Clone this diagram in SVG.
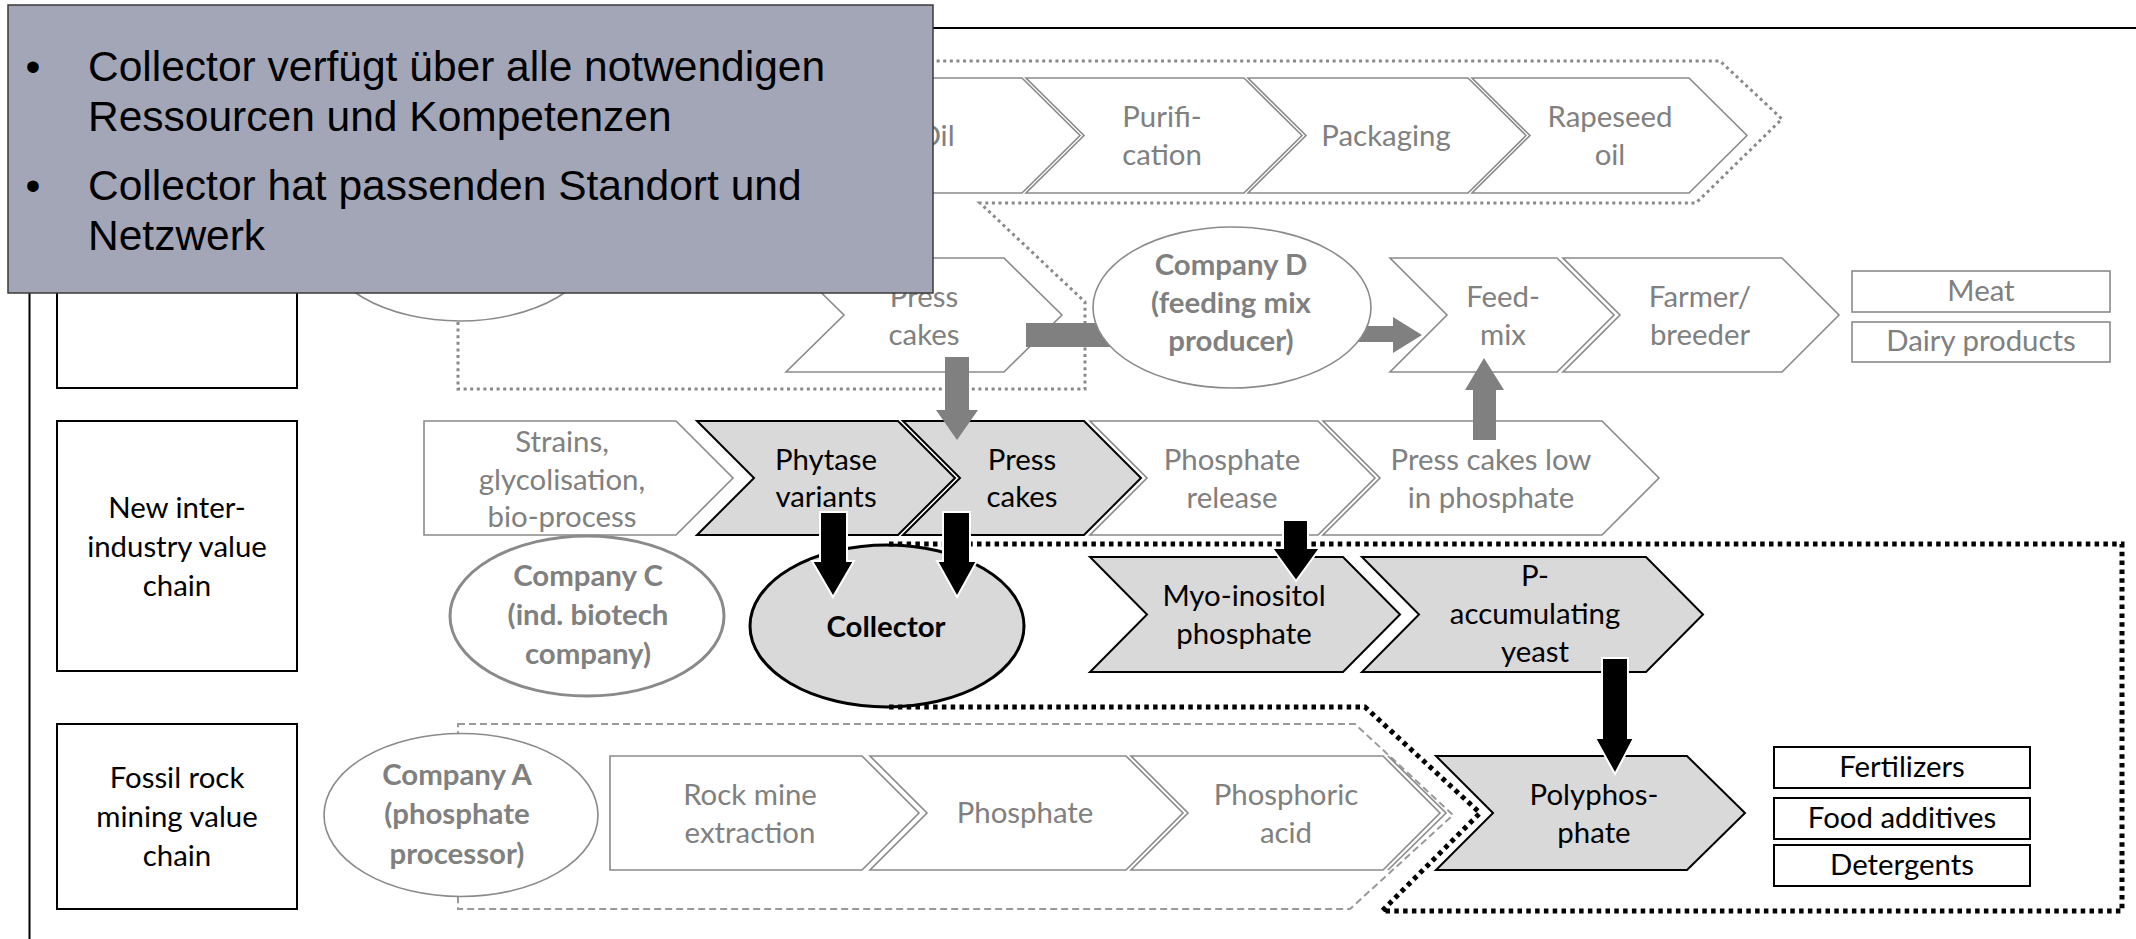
<svg xmlns="http://www.w3.org/2000/svg" width="2136" height="939" viewBox="0 0 2136 939">
  <style>
    .frame { stroke: #000; stroke-width: 2; fill: none; }
    .rowbox { fill: #fff; stroke: #000; stroke-width: 2; }
    .gchev { fill: #fff; stroke: #8a8a8a; stroke-width: 1.6; stroke-linejoin: miter; }
    .kchev { fill: #d9d9d9; stroke: #000; stroke-width: 2; stroke-linejoin: miter; }
    .gline { fill: none; stroke: #8a8a8a; stroke-width: 1.6; }
    .gbox { fill: #fff; stroke: #8a8a8a; stroke-width: 1.6; }
    .kbox { fill: #fff; stroke: #000; stroke-width: 2; }
    .ell-thin { fill: #fff; stroke: #8a8a8a; stroke-width: 1.6; }
    .ell-thick { fill: #fff; stroke: #8a8a8a; stroke-width: 3; }
    .ell-key { fill: #d9d9d9; stroke: #000; stroke-width: 3; }
    .gdot { fill: none; stroke: #8a8a8a; stroke-width: 3; stroke-dasharray: 3 3.6; }
    .gdash { fill: none; stroke: #999; stroke-width: 2; stroke-dasharray: 7 4; }
    .kdot { fill: none; stroke: #000; stroke-width: 5; stroke-dasharray: 4.5 4.3; }
    .garrow { fill: #808080; stroke: none; }
    .karrow { fill: #000; stroke: #fff; stroke-width: 2; stroke-linejoin: miter; }
    .t { font-family: Lato, "Open Sans", "DejaVu Sans", sans-serif; font-size: 28px; text-anchor: middle; }
    .tg { fill: #808080; }
    .tk { fill: #000; }
    .b { font-weight: bold; }
    .note { fill: #a3a6b7; stroke: #3a3a3a; stroke-width: 1.5; }
    .nt { font-family: "Liberation Sans", Arial, sans-serif; font-size: 42.5px; fill: #000; }
  </style>

  <!-- frame lines -->
  <g id="frame">
    <line class="frame" x1="29" y1="28" x2="2136" y2="28"/>
    <line class="frame" x1="29.5" y1="27" x2="29.5" y2="939"/>
  </g>

  <!-- row labels (labels are widened 5% about their centre line) -->
  <g id="row-oil">
    <rect class="rowbox" x="57" y="120" width="240" height="268"/>
  </g>
  <g id="row-new">
    <rect class="rowbox" x="57" y="421" width="240" height="250"/>
    <text class="t tk" transform="matrix(1.05 0 0 1 -8.85 0)"><tspan x="177" y="518">New inter-</tspan><tspan x="177" y="557">industry value</tspan><tspan x="177" y="596">chain</tspan></text>
  </g>
  <g id="row-fossil">
    <rect class="rowbox" x="57" y="724" width="240" height="185"/>
    <text class="t tk" transform="matrix(1.05 0 0 1 -8.85 0)"><tspan x="177" y="788">Fossil rock</tspan><tspan x="177" y="827">mining value</tspan><tspan x="177" y="866">chain</tspan></text>
  </g>

  <!-- scope outlines drawn beneath the nodes -->
  <g id="scopes-back">
    <path class="gdot" d="M458 322 V389 H1085 V302 L980 203 H1696 L1782 119 L1720 61 H880"/>
    <path class="gdash" d="M458 724 H1355 L1453 815 L1350 909 H458 Z"/>
  </g>

  <!-- top chain -->
  <g id="n-oil">
    <polygon class="gchev" points="804,78 1022,78 1080,135.5 1022,193 804,193 862,135.5"/>
    <text class="t tg" transform="matrix(1.05 0 0 1 -46.8 0)" x="936" y="146">Oil</text>
  </g>
  <g id="n-purification">
    <polygon class="gchev" points="1026,78 1244,78 1302,135.5 1244,193 1026,193 1084,135.5"/>
    <text class="t tg" transform="matrix(1.05 0 0 1 -58.1 0)"><tspan x="1162" y="127">Purifi-</tspan><tspan x="1162" y="165">cation</tspan></text>
  </g>
  <g id="n-packaging">
    <polygon class="gchev" points="1248,78 1468,78 1526,135.5 1468,193 1248,193 1306,135.5"/>
    <text class="t tg" transform="matrix(1.05 0 0 1 -69.3 0)" x="1386" y="146">Packaging</text>
  </g>
  <g id="n-rapeseed-oil">
    <polygon class="gchev" points="1472,78 1689,78 1747,135.5 1689,193 1472,193 1530,135.5"/>
    <text class="t tg" transform="matrix(1.05 0 0 1 -80.5 0)"><tspan x="1610" y="127">Rapeseed</tspan><tspan x="1610" y="165">oil</tspan></text>
  </g>

  <!-- feed chain -->
  <g id="n-presscakes-feed">
    <polygon class="gchev" points="786,258 1004,258 1062,315 1004,372 786,372 844,315"/>
    <text class="t tg" transform="matrix(1.05 0 0 1 -46.2 0)"><tspan x="924" y="307">Press</tspan><tspan x="924" y="345">cakes</tspan></text>
  </g>
  <g id="n-feedmix">
    <polygon class="gchev" points="1390,258 1557,258 1614,315 1557,372 1390,372 1447,315"/>
    <text class="t tg" transform="matrix(1.05 0 0 1 -75.15 0)"><tspan x="1503" y="307">Feed-</tspan><tspan x="1503" y="345">mix</tspan></text>
  </g>
  <g id="n-farmer">
    <polygon class="gchev" points="1563,258 1782,258 1839,315 1782,372 1563,372 1620,315"/>
    <text class="t tg" transform="matrix(1.05 0 0 1 -85 0)"><tspan x="1700" y="307">Farmer/</tspan><tspan x="1700" y="345">breeder</tspan></text>
  </g>
  <g id="n-meat">
    <rect class="gbox" x="1852" y="271" width="258" height="41"/>
    <text class="t tg" transform="matrix(1.05 0 0 1 -99.05 0)" x="1981" y="301">Meat</text>
  </g>
  <g id="n-dairy">
    <rect class="gbox" x="1852" y="322" width="258" height="40"/>
    <text class="t tg" transform="matrix(1.05 0 0 1 -99.05 0)" x="1981" y="351">Dairy products</text>
  </g>

  <!-- new inter-industry chain -->
  <g id="n-strains">
    <polygon class="gchev" points="424,421 676,421 733,478 676,535 424,535"/>
    <text class="t tg" transform="matrix(1.05 0 0 1 -28.1 0)"><tspan x="562" y="452">Strains,</tspan><tspan x="562" y="490">glycolisation,</tspan><tspan x="562" y="527">bio-process</tspan></text>
  </g>
  <g id="n-phytase">
    <polygon class="kchev" points="697,421 898,421 955,478 898,535 697,535 754,478"/>
    <text class="t tk" transform="matrix(1.05 0 0 1 -41.3 0)"><tspan x="826" y="470">Phytase</tspan><tspan x="826" y="507">variants</tspan></text>
  </g>
  <g id="n-presscakes-new">
    <polygon class="kchev" points="903,421 1084,421 1141,478 1084,535 903,535 960,478"/>
    <text class="t tk" transform="matrix(1.05 0 0 1 -51.1 0)"><tspan x="1022" y="470">Press</tspan><tspan x="1022" y="507">cakes</tspan></text>
  </g>
  <g id="n-phosphate-release">
    <polygon class="gchev" points="1090,421 1318,421 1375,478 1318,535 1090,535 1147,478"/>
    <text class="t tg" transform="matrix(1.05 0 0 1 -61.6 0)"><tspan x="1232" y="470">Phosphate</tspan><tspan x="1232" y="508">release</tspan></text>
  </g>
  <g id="n-presscakes-low">
    <polygon class="gchev" points="1323,421 1602,421 1659,478 1602,535 1323,535 1380,478"/>
    <text class="t tg" transform="matrix(1.05 0 0 1 -74.55 0)"><tspan x="1491" y="470">Press cakes low</tspan><tspan x="1491" y="508">in phosphate</tspan></text>
  </g>
  <g id="n-myoinositol">
    <polygon class="kchev" points="1090,557 1343,557 1400,614.5 1343,672 1090,672 1147,614.5"/>
    <text class="t tk" transform="matrix(1.05 0 0 1 -62.2 0)"><tspan x="1244" y="606">Myo-inositol</tspan><tspan x="1244" y="644">phosphate</tspan></text>
  </g>
  <g id="n-yeast">
    <polygon class="kchev" points="1362,557 1646,557 1703,614.5 1646,672 1362,672 1419,614.5"/>
    <text class="t tk" transform="matrix(1.05 0 0 1 -76.75 0)"><tspan x="1535" y="586">P-</tspan><tspan x="1535" y="624">accumulating</tspan><tspan x="1535" y="662">yeast</tspan></text>
  </g>

  <!-- fossil chain -->
  <g id="n-rockmine">
    <polygon class="gchev" points="610,756 862,756 919,813 862,870 610,870"/>
    <text class="t tg" transform="matrix(1.05 0 0 1 -37.5 0)"><tspan x="750" y="805">Rock mine</tspan><tspan x="750" y="843">extraction</tspan></text>
  </g>
  <g id="n-phosphate">
    <polygon class="gchev" points="870,756 1126,756 1183,813 1126,870 870,870 927,813"/>
    <text class="t tg" transform="matrix(1.05 0 0 1 -51.25 0)" x="1025" y="823">Phosphate</text>
  </g>
  <g id="n-phosphoric">
    <polygon class="gchev" points="1131,756 1383,756 1440,813 1383,870 1131,870 1188,813"/>
    <polyline class="gline" points="1388,756 1446,813 1388,870"/>
    <text class="t tg" transform="matrix(1.05 0 0 1 -64.3 0)"><tspan x="1286" y="805">Phosphoric</tspan><tspan x="1286" y="843">acid</tspan></text>
  </g>
  <g id="n-polyphosphate">
    <polygon class="kchev" points="1436,756 1687,756 1745,813 1687,870 1436,870 1493,813"/>
    <text class="t tk" transform="matrix(1.05 0 0 1 -79.7 0)"><tspan x="1594" y="805">Polyphos-</tspan><tspan x="1594" y="843">phate</tspan></text>
  </g>
  <g id="n-fertilizers">
    <rect class="kbox" x="1774" y="747" width="256" height="41"/>
    <text class="t tk" transform="matrix(1.05 0 0 1 -95.1 0)" x="1902" y="777">Fertilizers</text>
  </g>
  <g id="n-food">
    <rect class="kbox" x="1774" y="798" width="256" height="41"/>
    <text class="t tk" transform="matrix(1.05 0 0 1 -95.1 0)" x="1902" y="828">Food additives</text>
  </g>
  <g id="n-detergents">
    <rect class="kbox" x="1774" y="845" width="256" height="41"/>
    <text class="t tk" transform="matrix(1.05 0 0 1 -95.1 0)" x="1902" y="875">Detergents</text>
  </g>

  <!-- connectors -->
  <g id="connectors">
    <rect class="garrow" x="1026" y="323" width="110" height="24"/>
    <polygon class="garrow" points="1350,326 1393,326 1393,317 1422,335 1393,353 1393,342 1350,342"/>
    <polygon class="garrow" points="945,357 969,357 969,410 978,410 957,440 936,410 945,410"/>
    <polygon class="garrow" points="1473,440 1473,390 1465,390 1484,358 1504,390 1496,390 1496,440"/>
  </g>

  <!-- companies -->
  <g id="n-company-b">
    <ellipse class="ell-thin" cx="460" cy="240" rx="138" ry="81"/>
  </g>
  <g id="n-company-d">
    <ellipse class="ell-thin" cx="1232" cy="307.5" rx="139" ry="80.5"/>
    <text class="t tg b" transform="matrix(1.05 0 0 1 -61.55 0)"><tspan x="1231" y="275">Company D</tspan><tspan x="1231" y="313">(feeding mix</tspan><tspan x="1231" y="351">producer)</tspan></text>
  </g>
  <g id="n-company-c">
    <ellipse class="ell-thick" cx="587" cy="616" rx="137" ry="80"/>
    <text class="t tg b" transform="matrix(1.05 0 0 1 -29.4 0)"><tspan x="588" y="586">Company C</tspan><tspan x="588" y="625">(ind. biotech</tspan><tspan x="588" y="664">company)</tspan></text>
  </g>
  <g id="n-company-a">
    <ellipse class="ell-thin" cx="461" cy="815" rx="137" ry="81.5"/>
    <text class="t tg b" transform="matrix(1.05 0 0 1 -22.85 0)"><tspan x="457" y="785">Company A</tspan><tspan x="457" y="824">(phosphate</tspan><tspan x="457" y="864">processor)</tspan></text>
  </g>
  <g id="n-collector">
    <ellipse class="ell-key" cx="887" cy="626" rx="137" ry="81"/>
    <text class="t tk b" transform="matrix(1.05 0 0 1 -44.3 0)" x="886" y="637">Collector</text>
  </g>

  <!-- collector scope and its flows -->
  <g id="scope-collector">
    <path class="kdot" d="M889 544 H2122 V911 H1382 L1480 813 L1365 707 H889"/>
  </g>
  <g id="connectors-key">
    <polygon class="karrow" points="820,512 847,512 847,561 854,561 833,597 812,561 820,561"/>
    <polygon class="karrow" points="943,512 970,512 970,561 977,561 957,597 937,561 943,561"/>
    <polygon class="karrow" points="1283,520 1308,520 1308,548 1320,548 1296,581 1272,548 1283,548"/>
    <polygon class="karrow" points="1602,658 1628,658 1628,738 1634,738 1615,774 1595,738 1602,738"/>
  </g>

  <!-- callout panel -->
  <g id="callout">
    <rect class="note" x="8" y="5" width="925" height="288"/>
    <text class="nt" x="33" y="81" text-anchor="middle">•</text>
    <text class="nt" x="88" y="81">Collector verfügt über alle notwendigen</text>
    <text class="nt" x="88" y="131">Ressourcen und Kompetenzen</text>
    <text class="nt" x="33" y="200" text-anchor="middle">•</text>
    <text class="nt" x="88" y="200">Collector hat passenden Standort und</text>
    <text class="nt" x="88" y="250">Netzwerk</text>
  </g>
</svg>
